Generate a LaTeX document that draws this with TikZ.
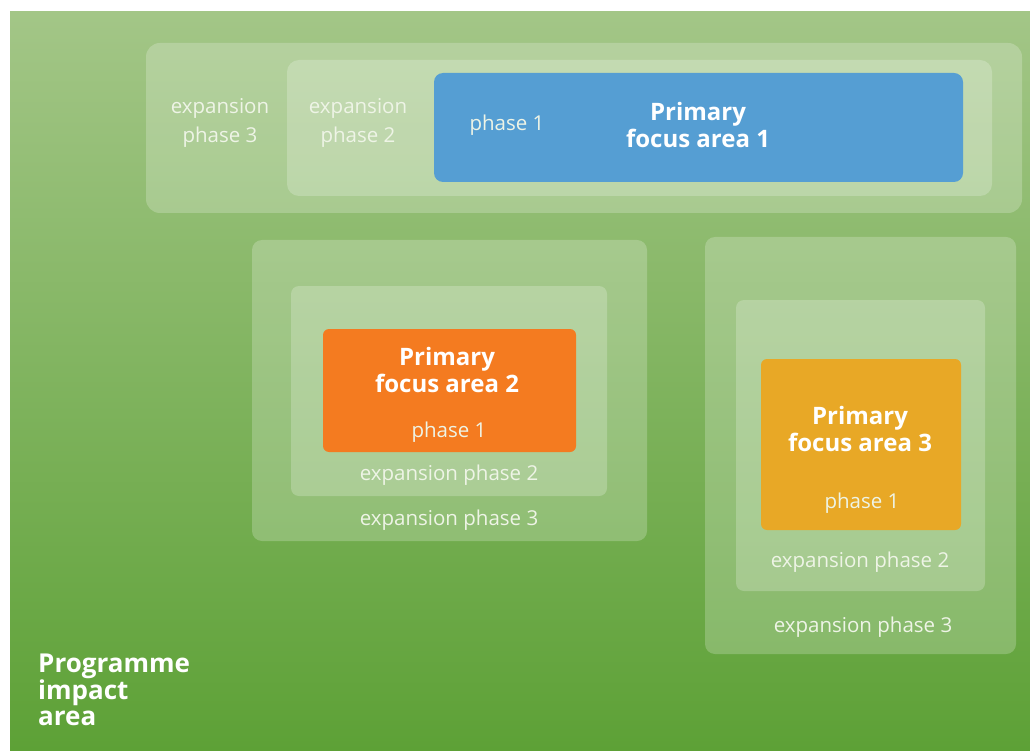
\documentclass[tikz,border=0pt]{standalone}
\usepackage{fontspec}
\setmainfont{Open Sans}
\usetikzlibrary{positioning}

\definecolor{fieldTop}{HTML}{A3C687}
\definecolor{fieldBot}{HTML}{5DA136}
\definecolor{areaBlue}{HTML}{559ED3}
\definecolor{areaOrange}{HTML}{F47B20}
\definecolor{areaAmber}{HTML}{E8A826}
\definecolor{phaseText}{HTML}{EEF4E6}

\begin{document}
\begin{tikzpicture}[x=1pt,y=-1pt,
    zone/.style={draw=none,fill=white,fill opacity=0.22,rounded corners=14pt,inner sep=0pt},
    core/.style={draw=none,rounded corners=9pt,inner sep=0pt},
    phase/.style={text=phaseText,font=\fontsize{20.5}{29}\selectfont,align=center,inner sep=0pt},
    title/.style={text=white,font=\bfseries\fontsize{24}{27}\selectfont,align=center,inner sep=0pt}]
    %
    % page and impact area
    \useasboundingbox (0,0) rectangle (1030,751);
    \fill[white] (0,0) rectangle (1030,751);
    \shade[top color=fieldTop,bottom color=fieldBot] (10,12) rectangle (1030,751);
    %
    % area 1 (top band)
    \node[zone,minimum width=876pt,minimum height=170pt] (oneThree) at (584,128) {};
    \node[zone,minimum width=705pt,minimum height=136pt,rounded corners=12pt] (oneTwo) at (639.5,128) {};
    \node[core,fill=areaBlue,minimum width=529pt,minimum height=109pt] (oneCore) at (698.5,127.5) {};
    \node[phase] (oneLblThree) at (220,123) {expansion\\phase 3};
    \node[phase] (oneLblTwo) at (358,123) {expansion\\phase 2};
    \node[phase] (oneLblOne) at (507,125) {phase 1};
    \node[title] (oneTitle) at (698,125) {Primary\\focus area 1};
    %
    % area 2
    \node[zone,minimum width=395pt,minimum height=301pt,rounded corners=10pt] (twoThree) at (449.5,390.5) {};
    \node[zone,minimum width=316pt,minimum height=210pt,rounded corners=8pt] (twoTwo) at (449,391) {};
    \node[core,fill=areaOrange,minimum width=253pt,minimum height=123pt,rounded corners=6pt] (twoCore) at (449.5,390.5) {};
    \node[title] (twoTitle) at (447,369.5) {Primary\\focus area 2};
    \node[phase] (twoLblOne) at (449,432) {phase 1};
    \node[phase] (twoLblTwo) at (449,475) {expansion phase 2};
    \node[phase] (twoLblThree) at (449,520) {expansion phase 3};
    %
    % area 3
    \node[zone,minimum width=311pt,minimum height=417pt,rounded corners=10pt] (threeThree) at (860.5,445.5) {};
    \node[zone,minimum width=249pt,minimum height=291pt,rounded corners=8pt] (threeTwo) at (860.5,445.5) {};
    \node[core,fill=areaAmber,minimum width=200pt,minimum height=171pt,rounded corners=6pt] (threeCore) at (861,444.5) {};
    \node[title] (threeTitle) at (860,428.5) {Primary\\focus area 3};
    \node[phase] (threeLblOne) at (862,503) {phase 1};
    \node[phase] (threeLblTwo) at (860,562) {expansion phase 2};
    \node[phase] (threeLblThree) at (863,627) {expansion phase 3};
    %
    % impact area label
    \node[title,align=left,anchor=north west,font=\bfseries\fontsize{26}{26.5}\selectfont] (impact) at (38,654) {Programme\\impact\\area};
\end{tikzpicture}
\end{document}
